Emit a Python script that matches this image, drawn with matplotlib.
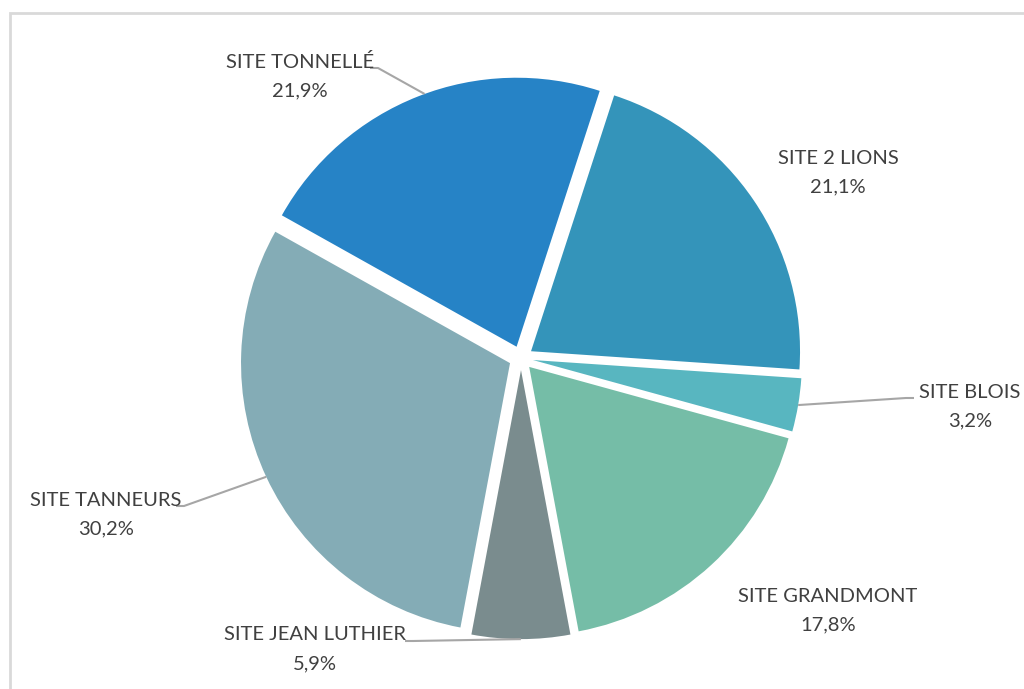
import matplotlib.pyplot as plt
import matplotlib.patches as mpatches
import numpy as np

# data, in the order Excel draws them (clockwise from the first slice)
sites = ["SITE 2 LIONS", "SITE BLOIS", "SITE GRANDMONT", "SITE JEAN LUTHIER",
         "SITE TANNEURS", "SITE TONNELLÉ"]
shares = [21.1, 3.2, 17.8, 5.9, 30.2, 21.9]
pct_labels = ["21,1%", "3,2%", "17,8%", "5,9%", "30,2%", "21,9%"]
colors = ["#3494BA", "#58B6C0", "#75BDA7", "#7A8C8E", "#84ACB6", "#2683C6"]

# label layout in pixels (x, y from top), and leader line anchor angle (None = no line)
label_pos = [(838, 158), (970, 392), (828, 596), (315, 635), (106, 500), (300, 62)]
leader_angle = [None, "mid", None, "mid", 205, 110]
leader_side = [None, "left", None, "right", "right", "right"]

W, H = 1024, 689
fig = plt.figure(figsize=(W / 100, H / 100), dpi=100)
ax = fig.add_axes([0, 0, 1, 1])

cx, cy, r = 521, H - 358, 269
wedges, _ = ax.pie(shares, colors=colors, startangle=72, counterclock=False,
                   explode=[0.045 * r] * len(shares), center=(cx, cy), radius=r,
                   wedgeprops=dict(linewidth=0))

ax.set_xlim(0, W)
ax.set_ylim(0, H)
ax.set_aspect("equal")
ax.axis("off")

# chart frame (cut off on the right and bottom in the reference)
ax.add_patch(mpatches.Rectangle((10, -20), W + 20, H - 13 + 20, fill=False,
                                edgecolor="#d9d9d9", linewidth=2))

txt_color = "#404040"
for w, name, pct, (lx, ly), ang, side in zip(wedges, sites, pct_labels, label_pos,
                                              leader_angle, leader_side):
    ty = H - ly
    ax.text(lx, ty, name, ha="center", va="center", fontsize=14.5,
            family="Lato", color=txt_color)
    ax.text(lx, ty - 29, pct, ha="center", va="center", fontsize=14.5,
            family="Lato", color=txt_color)
    if ang is None:
        continue
    a = (w.theta1 + w.theta2) / 2 if ang == "mid" else ang
    wx, wy = w.center
    ex = wx + w.r * np.cos(np.radians(a))
    ey = wy + w.r * np.sin(np.radians(a))
    half = len(name) * 5.0
    if side == "left":
        sx = lx - half - 6
    else:
        sx = lx + half + 5
    ax.plot([sx, sx + (8 if side == "right" else -8), ex], [ty - 6, ty - 6, ey],
            color="#a6a6a6", linewidth=1.5, solid_capstyle="butt")

fig.savefig("out.png", dpi=100, facecolor="white")
